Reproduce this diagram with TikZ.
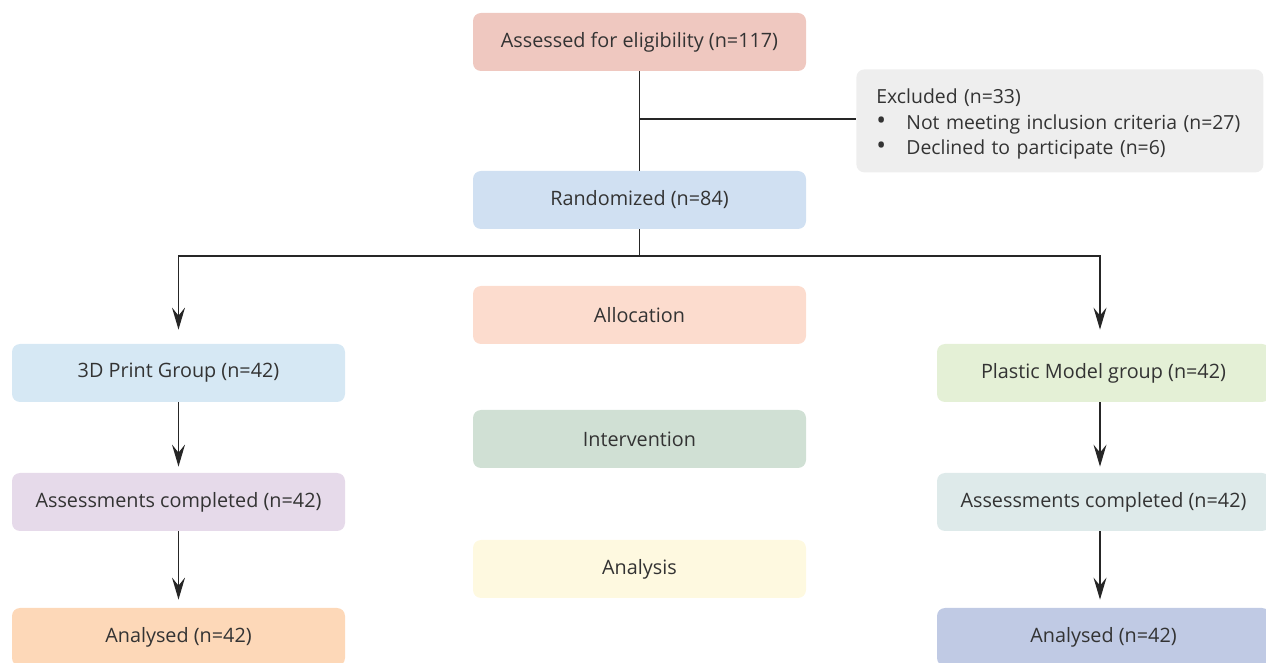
\documentclass[tikz,border=0pt]{standalone}
\usepackage{fontspec}
\setmainfont{Open Sans}
\usepackage{tikz}
\usetikzlibrary{arrows.meta,positioning}
\definecolor{txtgray}{HTML}{333333}
\definecolor{eligfill}{HTML}{EFC8C0}
\definecolor{randfill}{HTML}{D0E0F2}
\definecolor{exclfill}{HTML}{EEEEEE}
\definecolor{allocfill}{HTML}{FCDCCE}
\definecolor{intervfill}{HTML}{D0E0D4}
\definecolor{analysisfill}{HTML}{FEF9E0}
\definecolor{printfill}{HTML}{D6E8F4}
\definecolor{plasticfill}{HTML}{E4F0D6}
\definecolor{assessLfill}{HTML}{E6DAEA}
\definecolor{assessRfill}{HTML}{DEEAEA}
\definecolor{analysedLfill}{HTML}{FDD8B8}
\definecolor{analysedRfill}{HTML}{C0CAE4}
\newcommand{\exclitem}{\hspace*{5pt}\makebox[15pt][l]{\fontsize{13}{13}\selectfont\textbullet}}
\tikzset{flowbox/.style={
    rectangle, rounded corners=4pt,
    minimum width=166.5pt, minimum height=29pt,
    inner sep=2pt, text=txtgray,
    font=\fontsize{9.9}{12}\selectfont,
    fill=#1
  },
  flowbox/.default=exclfill,
  flowline/.style={line width=0.7pt, draw=black!85},
  flowarrow/.style={flowline, -{Stealth[length=11pt, width=6.5pt, inset=4pt]}}
}

\begin{document}
\begin{tikzpicture}[x=0.5pt, y=-0.5pt]
    \useasboundingbox (0,0) rectangle (1266,663);
    % middle column
    \node[flowbox=eligfill] (elig) at (639.5,42) {Assessed for eligibility (n=117)};
    \node[flowbox=randfill] (rand) at (639.5,200) {Randomized (n=84)};
    \node[flowbox=allocfill] (alloc) at (639.5,315) {Allocation};
    \node[flowbox=intervfill] (interv) at (639.5,439) {Intervention};
    \node[flowbox=analysisfill] (analysis) at (639.5,569) {Analysis};
    % exclusion box
    \node[flowbox=exclfill, minimum height=51.5pt, text width=193.5pt,
          align=left, anchor=north west, inner xsep=5pt,
          font=\fontsize{9.7}{12.75}\selectfont] (excl) at (856,69)
        {\rule{0pt}{10.5pt}\hspace*{5pt}Excluded (n=33)\\
         \exclitem Not meeting inclusion criteria (n=27)\\
         \exclitem Declined to participate (n=6)};
    % left arm
    \node[flowbox=printfill] (print) at (178.5,373) {3D Print Group (n=42)};
    \node[flowbox=assessLfill] (assessL) at (178.5,502) {Assessments completed (n=42)};
    \node[flowbox=analysedLfill] (analysedL) at (178.5,637) {Analysed (n=42)};
    % right arm
    \node[flowbox=plasticfill] (plastic) at (1103.5,373) {Plastic Model group (n=42)};
    \node[flowbox=assessRfill] (assessR) at (1103.5,502) {Assessments completed (n=42)};
    \node[flowbox=analysedRfill] (analysedR) at (1103.5,637) {Analysed (n=42)};

    \coordinate (split) at (639.5,119);
    \coordinate (branch) at (639.5,256);
    \draw[flowline] (elig) -- (rand);
    \draw[flowline] (split) -- (split -| excl.west);
    \draw[flowline] (rand) -- (branch);
    \draw[flowarrow, shorten >=7pt] (branch) -| (print.north);
    \draw[flowarrow, shorten >=7pt] (branch) -| ([xshift=-1.75pt]plastic.north);
    \draw[flowarrow, shorten >=3pt] (print) -- (assessL);
    \draw[flowarrow, shorten >=4pt] (assessL) -- (analysedL);
    \draw[flowarrow, shorten >=3pt] ([xshift=-1.75pt]plastic.south) -- ([xshift=-1.75pt]assessR.north);
    \draw[flowarrow, shorten >=4pt] ([xshift=-1.75pt]assessR.south) -- ([xshift=-1.75pt]analysedR.north);
\end{tikzpicture}
\end{document}
